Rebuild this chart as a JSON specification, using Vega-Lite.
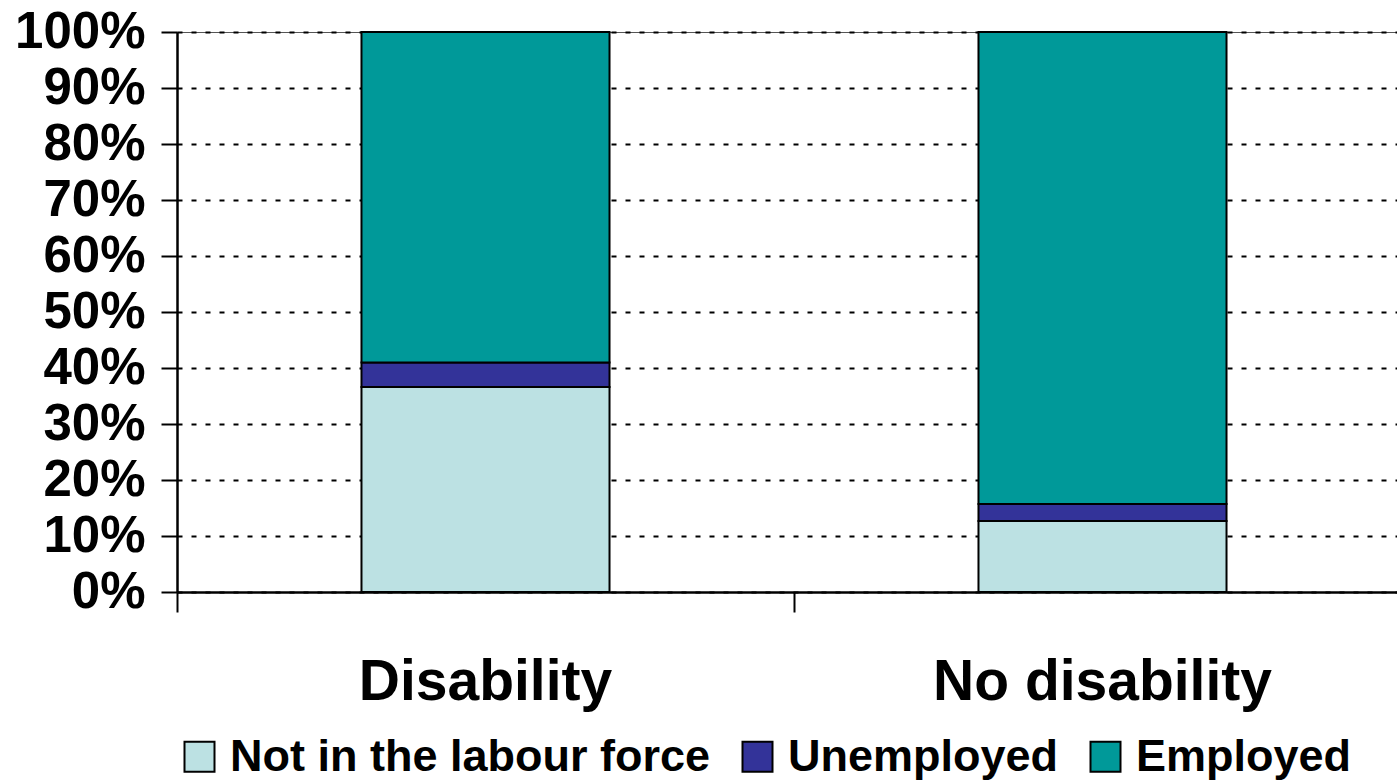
{
  "$schema": "https://vega.github.io/schema/vega-lite/v6.json",
  "autosize": "none",
  "width": 1234,
  "height": 560,
  "padding": {"left": 177, "top": 32, "right": 0, "bottom": 190},
  "background": "white",
  "config": {
    "font": "Liberation Sans",
    "view": {"stroke": "#555", "strokeWidth": 1}
  },
  "data": {
    "values": [
      {"group": "Disability", "status": "Not in the labour force", "k": 1, "share": 0.366},
      {"group": "Disability", "status": "Unemployed", "k": 2, "share": 0.044},
      {"group": "Disability", "status": "Employed", "k": 3, "share": 0.590},
      {"group": "No disability", "status": "Not in the labour force", "k": 1, "share": 0.127},
      {"group": "No disability", "status": "Unemployed", "k": 2, "share": 0.030},
      {"group": "No disability", "status": "Employed", "k": 3, "share": 0.843}
    ]
  },
  "mark": {"type": "bar", "stroke": "black", "strokeWidth": 2, "width": {"band": 0.402}},
  "encoding": {
    "x": {
      "field": "group",
      "type": "nominal",
      "sort": null,
      "scale": {"paddingInner": 0, "paddingOuter": 0},
      "axis": {
        "title": null,
        "labelAngle": 0,
        "labelFont": "Liberation Sans",
        "labelFontSize": 57,
        "labelFontWeight": "bold",
        "labelColor": "black",
        "labelPadding": 42,
        "labelLimit": 0,
        "bandPosition": 0,
        "tickSize": 20,
        "tickColor": "black",
        "tickWidth": 2,
        "domainColor": "black",
        "domainWidth": 2.5
      }
    },
    "y": {
      "field": "share",
      "type": "quantitative",
      "stack": "zero",
      "scale": {"domain": [0, 1], "nice": false},
      "axis": {
        "title": null,
        "format": ".0%",
        "values": [0, 0.1, 0.2, 0.3, 0.4, 0.5, 0.6, 0.7, 0.8, 0.9, 1],
        "labelFont": "Liberation Sans",
        "labelFontSize": 51,
        "labelFontWeight": "bold",
        "labelColor": "black",
        "labelPadding": 16,
        "tickSize": 16,
        "tickColor": "black",
        "tickWidth": 2,
        "domainColor": "black",
        "domainWidth": 2.5,
        "grid": true,
        "gridColor": "black",
        "gridWidth": 2,
        "gridDash": [5, 9],
        "gridOpacity": 1
      }
    },
    "color": {
      "field": "status",
      "type": "nominal",
      "scale": {
        "domain": ["Not in the labour force", "Unemployed", "Employed"],
        "range": ["#BCE1E3", "#333399", "#009999"]
      },
      "legend": {
        "title": null,
        "orient": "bottom",
        "direction": "horizontal",
        "symbolType": "square",
        "symbolSize": 900,
        "symbolStrokeColor": "black",
        "symbolStrokeWidth": 2,
        "labelFont": "Liberation Sans",
        "labelFontSize": 45,
        "labelFontWeight": "bold",
        "labelColor": "black",
        "labelOffset": 8,
        "columnPadding": 24,
        "offset": 24,
        "padding": 0,
        "labelLimit": 0
      }
    },
    "order": {"field": "k", "type": "quantitative"}
  }
}
